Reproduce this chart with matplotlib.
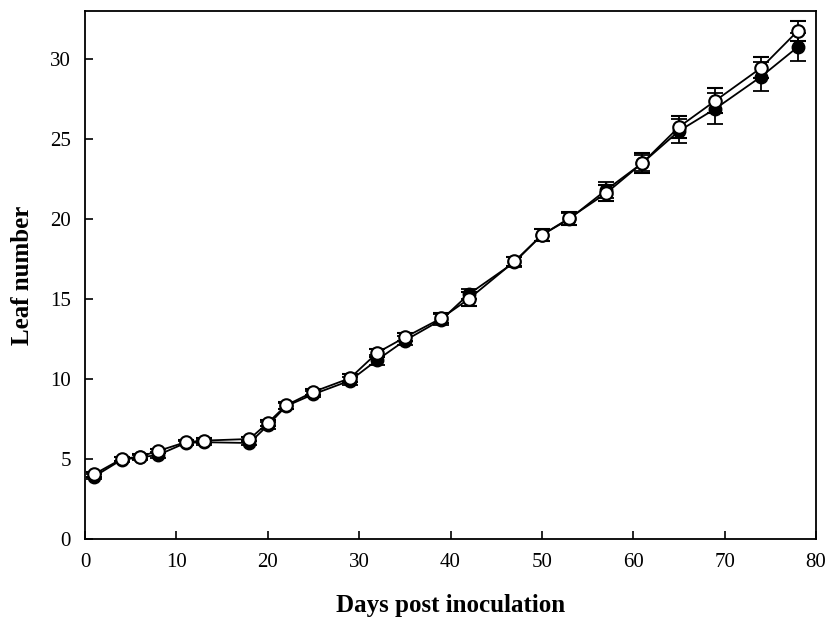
import matplotlib
matplotlib.use('Agg')
from matplotlib import pyplot as plt

plt.rcParams['font.family'] = 'Liberation Serif'

days = [1, 4, 6, 8, 11, 13, 18, 20, 22, 25, 29, 32, 35, 39, 42, 47, 50,
        53, 57, 61, 65, 69, 74, 78]
filled = [3.9, 4.95, 5.1, 5.25, 6.0, 6.05, 6.0, 7.1, 8.3, 9.05, 9.9, 11.2,
          12.4, 13.7, 15.3, 17.3, 19.0, 20.0, 21.8, 23.5, 25.5, 26.9, 28.9,
          30.75]
filled_err = [0.15, 0.15, 0.15, 0.2, 0.15, 0.15, 0.15, 0.2, 0.2, 0.2, 0.25,
              0.3, 0.3, 0.35, 0.3, 0.3, 0.35, 0.4, 0.5, 0.5, 0.75, 0.95,
              0.9, 0.9]
opened = [4.05, 5.0, 5.15, 5.5, 6.05, 6.15, 6.25, 7.25, 8.35, 9.2, 10.05,
          11.65, 12.6, 13.8, 15.0, 17.35, 19.0, 20.05, 21.6, 23.5, 25.75,
          27.4, 29.45, 31.75]
opened_err = [0.15, 0.15, 0.15, 0.15, 0.15, 0.15, 0.15, 0.2, 0.2, 0.2, 0.25,
              0.25, 0.25, 0.3, 0.45, 0.3, 0.4, 0.4, 0.5, 0.6, 0.7, 0.8,
              0.65, 0.65]

fig = plt.figure(figsize=(8.3, 6.23), dpi=100)
ax = fig.add_axes([85 / 830, 1 - 539 / 623, 731 / 830, 528 / 623])

ax.errorbar(days, filled, yerr=filled_err, fmt='-o', color='black',
            mfc='black', mec='black', ms=9, lw=1.3, elinewidth=1.3,
            capsize=6, capthick=1.3, zorder=2)
ax.errorbar(days, opened, yerr=opened_err, fmt='-o', color='black',
            mfc='white', mec='black', ms=9, mew=1.5, lw=1.3, elinewidth=1.3,
            capsize=6, capthick=1.3, zorder=3)

ax.set_xlim(0, 80)
ax.set_ylim(0, 33)
ax.set_xticks(range(0, 81, 10))
ax.set_yticks(range(0, 31, 5))
ax.tick_params(direction='in', length=6, width=1.2, labelsize=15, pad=10)
for s in ax.spines.values():
    s.set_linewidth(1.3)

ax.set_xlabel('Days post inoculation', fontsize=18, fontweight='bold',
              labelpad=16)
ax.set_ylabel('Leaf number', fontsize=18, fontweight='bold', labelpad=12)

fig.savefig('out.png', dpi=100)
